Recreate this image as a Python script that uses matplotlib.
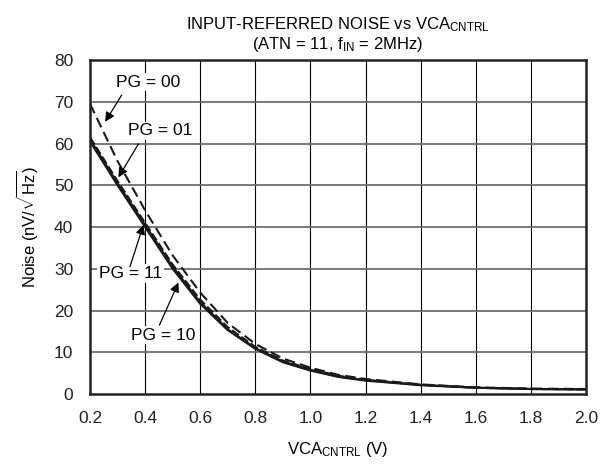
import numpy as np
import matplotlib
matplotlib.use("Agg")
import matplotlib.pyplot as plt

plt.rcParams['font.family'] = ['Liberation Sans', 'DejaVu Sans']
plt.rcParams['mathtext.fontset'] = 'custom'
plt.rcParams['mathtext.rm'] = 'Liberation Sans'
plt.rcParams['mathtext.it'] = 'Liberation Sans'

# VCA control voltage (V)
vca = [0.2, 0.3, 0.4, 0.5, 0.6, 0.7, 0.8, 0.9, 1.0, 1.1, 1.2, 1.4, 1.6, 1.8, 2.0]

# input-referred noise (nV/rtHz)
pg00 = [69.5, 55.8, 44.0, 33.2, 24.3, 17.0, 12.0, 8.5, 6.3, 4.6, 3.6, 2.3, 1.6, 1.3, 1.2]
pg01 = [61.5, 51.0, 41.0, 31.0, 22.6, 16.0, 11.3, 8.0, 6.0, 4.4, 3.4, 2.2, 1.5, 1.2, 1.1]
pg11 = [61.0, 50.5, 40.5, 30.5, 22.0, 15.5, 11.0, 7.8, 5.8, 4.2, 3.3, 2.2, 1.5, 1.2, 1.1]
pg10 = [60.5, 50.0, 40.0, 30.0, 21.6, 15.3, 10.8, 7.6, 5.6, 4.1, 3.2, 2.1, 1.5, 1.2, 1.1]

xticks = [0.2, 0.4, 0.6, 0.8, 1.0, 1.2, 1.4, 1.6, 1.8, 2.0]
yticks = [0, 10, 20, 30, 40, 50, 60, 70, 80]

fig = plt.figure(figsize=(6.1, 4.66), dpi=100)
ax = fig.add_axes([0.1475, 0.1545, 0.8132, 0.7167])
ax.set_xlim(0.2, 2.0)
ax.set_ylim(0, 80)

# grid: gray horizontal, black vertical
for y in yticks[1:-1]:
    ax.plot([xticks[0], xticks[-1]], [y, y], color='#6e6e6e', lw=1.3, zorder=2)
ax.vlines(xticks[1:-1], 0, 80, colors='black', lw=0.8, zorder=1)

ax.plot(vca, pg00, color='#1a1a1a', lw=1.5, dashes=(5, 2.5), zorder=3)
ax.plot(vca, pg01, color='#1a1a1a', lw=1.5, dashes=(4, 1.5), zorder=3)
ax.plot(vca, pg11, color='#1a1a1a', lw=1.5, zorder=3)
ax.plot(vca, pg10, color='#1a1a1a', lw=1.5, zorder=3)

ax.set_xticks(xticks)
ax.set_yticks(yticks)
ax.set_xticklabels([f"{t:.1f}" for t in xticks])

ax.tick_params(length=0, labelsize=12.5, colors='#222222')
ax.tick_params(axis='x', pad=12)
ax.tick_params(axis='y', pad=12)
for s in ax.spines.values():
    s.set_linewidth(1.8)
    s.set_color('#222222')
    s.set_zorder(6)

# labels with arrows
box = dict(boxstyle='square,pad=0.1', fc='white', ec='none')
arrow = dict(arrowstyle='-|>', color='black', lw=0.9, mutation_scale=14, shrinkA=0, shrinkB=0)
labels = [
    ("PG = 00", (0.255, 65.2), (0.411, 74.7), (0.315, 71.6)),
    ("PG = 01", (0.303, 51.9), (0.455, 63.0), (0.376, 59.9)),
    ("PG = 11", (0.394, 40.5), (0.348, 28.9), (0.345, 30.5)),
    ("PG = 10", (0.521, 26.7), (0.467, 14.1), (0.452, 16.5)),
]
for txt, tip, pos, tail in labels:
    ax.annotate("", xy=tip, xytext=tail, arrowprops=arrow, zorder=5)
    ax.text(pos[0], pos[1], txt, fontsize=12.5, ha='center', va='center', bbox=box, zorder=4)

ax.set_xlabel(r'VCA$_{\mathregular{CNTRL}}$ (V)', fontsize=12, labelpad=10)
ax.set_ylabel(r'Noise (nV/$\sqrt{\mathregular{Hz}}$)', fontsize=12, labelpad=10)
ax.set_title('INPUT-REFERRED NOISE vs VCA$_{\\mathregular{CNTRL}}$\n'
             '(ATN = 11, f$_{\\mathregular{IN}}$ = 2MHz)',
             fontsize=12, linespacing=1.1, pad=8)

fig.savefig('out.png', dpi=100)
